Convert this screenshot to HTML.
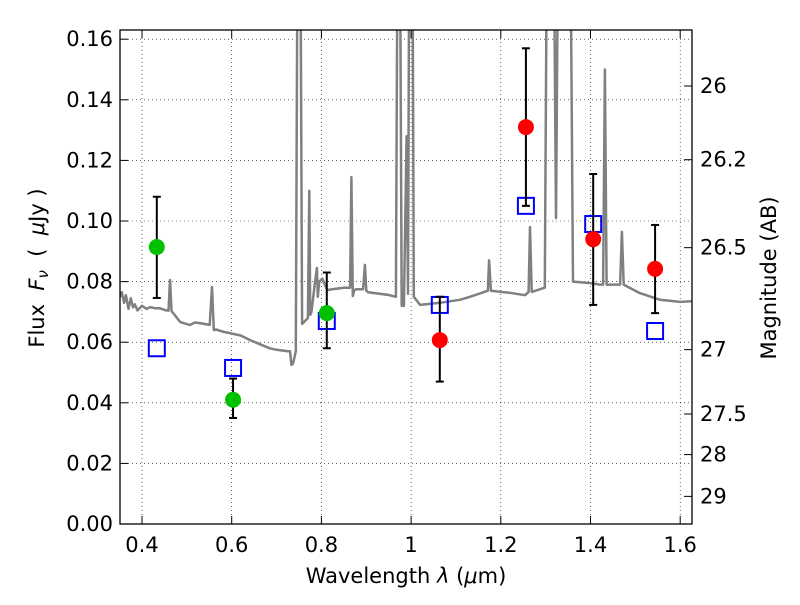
<!DOCTYPE html>
<html><head><meta charset="utf-8"><style>
body{margin:0;background:#fff;}
svg text{font-family:"DejaVu Sans","Liberation Sans",sans-serif;fill:#000;}
</style></head><body>
<svg id="chart" width="800" height="600" xmlns="http://www.w3.org/2000/svg">
<defs><clipPath id="pc"><rect x="120" y="30" width="572" height="494"/></clipPath></defs>
<g id="grid"></g>
<g id="spec" clip-path="url(#pc)"></g>
<g id="marks"></g>
<rect x="120" y="30" width="572" height="494" fill="none" stroke="#000" stroke-width="1.3"/>
<g id="axes"></g>
<text x="406" y="583" font-size="21" text-anchor="middle">Wavelength  <tspan font-style="italic">λ</tspan> (<tspan font-style="italic">μ</tspan>m)</text>
<text transform="translate(44,268) rotate(-90)" font-size="21" text-anchor="middle" xml:space="preserve">Flux  <tspan font-style="italic">F</tspan><tspan font-style="italic" font-size="15" dy="4">ν</tspan><tspan dy="-4">  (  </tspan><tspan font-style="italic">μ</tspan>Jy )</text>
<text transform="translate(776,278) rotate(-90)" font-size="21" text-anchor="middle">Magnitude (AB)</text>
</svg>
<script>
const specWave=[0.351,0.355,0.36,0.364,0.37,0.375,0.38,0.384,0.39,0.40,0.41,0.418,0.43,0.44,0.451,0.459,0.4625,0.466,0.47,0.485,0.495,0.507,0.518,0.529,0.54,0.551,0.556,0.56,0.565,0.58,0.596,0.62,0.641,0.66,0.685,0.70,0.725,0.73,0.733,0.737,0.743,0.747,0.750,0.753,0.757,0.770,0.773,0.775,0.778,0.785,0.790,0.792,0.795,0.802,0.813,0.824,0.850,0.864,0.867,0.870,0.873,0.877,0.893,0.897,0.900,0.904,0.949,0.966,0.970,0.975,0.979,0.984,0.990,0.993,0.996,1.003,1.006,1.02,1.064,1.109,1.131,1.156,1.171,1.174,1.178,1.22,1.254,1.262,1.265,1.269,1.298,1.303,1.318,1.323,1.328,1.355,1.361,1.40,1.421,1.428,1.432,1.436,1.466,1.470,1.474,1.48,1.51,1.555,1.60,1.625];
const specFlux=[0.0749,0.0765,0.073,0.0755,0.071,0.0745,0.0715,0.0725,0.0705,0.072,0.071,0.0716,0.0712,0.0712,0.0706,0.0704,0.0805,0.0702,0.0695,0.0667,0.0662,0.0657,0.0665,0.0663,0.066,0.0657,0.0782,0.064,0.0642,0.0635,0.063,0.0622,0.0607,0.0595,0.058,0.0575,0.057,0.057,0.0525,0.053,0.057,0.2,0.2,0.2,0.066,0.068,0.11,0.069,0.07,0.079,0.0845,0.075,0.08,0.081,0.0772,0.0775,0.078,0.078,0.1145,0.0752,0.077,0.0775,0.0775,0.0855,0.077,0.0765,0.0756,0.075,0.2,0.2,0.072,0.072,0.128,0.076,0.2,0.2,0.075,0.0723,0.073,0.074,0.075,0.0762,0.077,0.087,0.077,0.0763,0.0755,0.0766,0.098,0.0766,0.078,0.2,0.2,0.101,0.2,0.2,0.080,0.0795,0.079,0.079,0.15,0.079,0.079,0.0964,0.079,0.0785,0.0762,0.074,0.0733,0.0735];
const greenWave=[0.433,0.603,0.812];
const greenFlux=[0.0914,0.041,0.0696];
const greenHi=[0.108,0.048,0.083];
const greenLo=[0.0746,0.035,0.058];
const redWave=[1.064,1.256,1.406,1.544];
const redFlux=[0.0607,0.131,0.094,0.0842];
const redHi=[0.075,0.157,0.1155,0.0987];
const redLo=[0.047,0.105,0.0723,0.0696];
const modelWave=[0.433,0.603,0.812,1.064,1.256,1.406,1.544];
const modelFlux=[0.058,0.0515,0.067,0.0723,0.105,0.099,0.0637];
const xTicks=[0.4,0.6,0.8,1.0,1.2,1.4,1.6];
const xTickLabels=["0.4","0.6","0.8","1","1.2","1.4","1.6"];
const yTicks=[0,0.02,0.04,0.06,0.08,0.10,0.12,0.14,0.16];
const yTickLabels=["0.00","0.02","0.04","0.06","0.08","0.10","0.12","0.14","0.16"];
const magTicks=[26,26.2,26.5,27,27.5,28,29];
const magTickLabels=["26","26.2","26.5","27","27.5","28","29"];
(function(){
const NS="http://www.w3.org/2000/svg";
const X=v=>142+(v-0.4)*448.5;
const Y=f=>524-f*3030;
const M=m=>Y(Math.pow(10,(23.9-m)/2.5));
function mk(t,a,p){const e=document.createElementNS(NS,t);for(const k in a)e.setAttribute(k,a[k]);p.appendChild(e);return e;}
const grid=document.getElementById('grid'),axes=document.getElementById('axes'),spec=document.getElementById('spec'),marks=document.getElementById('marks');
xTicks.forEach((v,i)=>{
 const g=mk('line',{x1:X(v),x2:X(v),y1:30,y2:524,stroke:'#000','stroke-width':0.6,'stroke-dasharray':'1,3'},grid);
 
 
 mk('line',{x1:X(v),x2:X(v),y1:524,y2:516,stroke:'#000'},axes);
 mk('line',{x1:X(v),x2:X(v),y1:30,y2:38,stroke:'#000'},axes);
 const t=mk('text',{x:X(v),y:552,'font-size':21,'text-anchor':'middle'},axes);t.textContent=xTickLabels[i];
 
 
});
yTicks.forEach((v,i)=>{
 const g=mk('line',{x1:120,x2:692,y1:Y(v),y2:Y(v),stroke:'#000','stroke-width':0.6,'stroke-dasharray':'1,3'},grid);
 
 
 mk('line',{x1:120,x2:128,y1:Y(v),y2:Y(v),stroke:'#000'},axes);
 const t=mk('text',{x:113,y:Y(v)+7,'font-size':21,'text-anchor':'end'},axes);t.textContent=yTickLabels[i];
 
 
});
magTicks.forEach((m,i)=>{
 mk('line',{x1:684,x2:692,y1:M(m),y2:M(m),stroke:'#000'},axes);
 const t=mk('text',{x:700,y:M(m)+7,'font-size':21},axes);t.textContent=magTickLabels[i];
 
 
});
const pts=specWave.map((w,i)=>X(w).toFixed(1)+','+Y(specFlux[i]).toFixed(1)).join(' ');
const pl=mk('polyline',{points:pts,fill:'none',stroke:'#808080','stroke-width':2.5,'stroke-linejoin':'round'},spec);


function errbar(w,lo,hi){
 const x=X(w);
 mk('line',{x1:x,x2:x,y1:Y(lo),y2:Y(hi),stroke:'#000','stroke-width':2},marks);
 mk('line',{x1:x-4,x2:x+4,y1:Y(lo),y2:Y(lo),stroke:'#000','stroke-width':2},marks);
 mk('line',{x1:x-4,x2:x+4,y1:Y(hi),y2:Y(hi),stroke:'#000','stroke-width':2},marks);
}
modelWave.forEach((w,i)=>{
 const s=mk('rect',{x:X(w)-8,y:Y(modelFlux[i])-8,width:16,height:16,fill:'none',stroke:'#0000ff','stroke-width':2},marks);
 
 
});
greenWave.forEach((w,i)=>{
 errbar(w,greenLo[i],greenHi[i]);
 const c=mk('circle',{cx:X(w),cy:Y(greenFlux[i]),r:8,fill:'#00c000'},marks);
 
 
});
redWave.forEach((w,i)=>{
 errbar(w,redLo[i],redHi[i]);
 const c=mk('circle',{cx:X(w),cy:Y(redFlux[i]),r:8,fill:'#ff0000'},marks);
 
 
});
})();
</script>
</body></html>
